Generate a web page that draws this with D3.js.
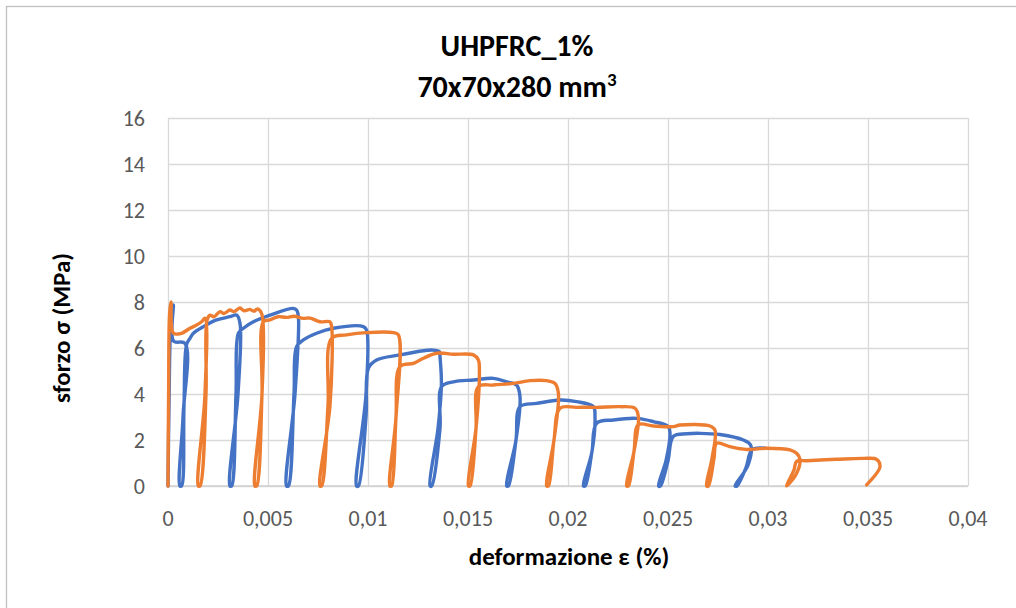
<!DOCTYPE html>
<html>
<head>
<meta charset="utf-8">
<script src="https://cdn.jsdelivr.net/npm/d3@7"></script>
<style>
  html, body { margin: 0; padding: 0; background: #fff; }
  svg { display: block; }
  text { font-family: Carlito, Lato, "Open Sans", sans-serif; }
</style>
</head>
<body>
<svg id="chart" width="1016" height="608"></svg>
<script>
// axis ticks
var xTicks = [0, 0.005, 0.01, 0.015, 0.02, 0.025, 0.03, 0.035, 0.04];
var yTicks = [0, 2, 4, 6, 8, 10, 12, 14, 16];

// blue specimen: [strain, stress]
var blueSeries = [
  [0, 0], [0.00005, 3.5], [0.00015, 7.2], [0.00027, 7.87], [0.00028, 6.3], [0.00085, 6.2],
  [0.00075, 3.0], [0.0006, 0],
  [0.00068, 0], [0.0008, 3.5], [0.00093, 6.15],
  [0.0011, 6.42], [0.00127, 6.64], [0.00177, 6.93], [0.00243, 7.22], [0.0031, 7.36], [0.00343, 7.43],
  [0.0036, 7.07], [0.0035, 4.0], [0.0031, 0],
  [0.00318, 0], [0.0034, 4.0], [0.00352, 6.64],
  [0.00377, 6.86], [0.00427, 7.14], [0.0051, 7.43], [0.00627, 7.72], [0.00643, 7.65],
  [0.00652, 7.36], [0.00635, 4.0], [0.00593, 0],
  [0.00602, 0], [0.0063, 4.0], [0.00643, 6.06],
  [0.00677, 6.35], [0.00743, 6.64], [0.00827, 6.86], [0.00977, 6.93], [0.00993, 6.78],
  [0.0099, 4.0], [0.00943, 0],
  [0.00952, 0], [0.0099, 3.0], [0.01002, 5.12],
  [0.01043, 5.48], [0.0116, 5.70], [0.01277, 5.88], [0.0132, 5.91], [0.01357, 5.84], [0.0136, 5.62],
  [0.01367, 4.46], [0.0135, 2.5], [0.0131, 0],
  [0.01318, 0], [0.0136, 2.5], [0.01368, 4.32],
  [0.01427, 4.53], [0.01527, 4.61], [0.01627, 4.68], [0.01693, 4.53], [0.01743, 4.39], [0.0176, 3.88],
  [0.0174, 2.0], [0.01693, 0],
  [0.01702, 0], [0.0174, 2.0], [0.0176, 3.45],
  [0.01843, 3.59], [0.0196, 3.74], [0.02043, 3.67], [0.02127, 3.45], [0.02135, 3.01],
  [0.0212, 1.5], [0.02077, 0],
  [0.02086, 0], [0.0212, 1.5], [0.02143, 2.73],
  [0.02227, 2.87], [0.02343, 2.94], [0.02427, 2.80], [0.02502, 2.58], [0.0251, 2.29],
  [0.0249, 1.1], [0.02453, 0],
  [0.02462, 0], [0.025, 1.1], [0.02527, 2.16],
  [0.02593, 2.27], [0.0266, 2.29], [0.0276, 2.24], [0.02877, 2.0], [0.02913, 1.78],
  [0.029, 0.9], [0.02835, 0],
  [0.02845, 0], [0.0289, 0.8], [0.0292, 1.57],
  [0.02987, 1.64]
];

// orange specimen: [strain, stress]
var orangeSeries = [
  [0, 0], [0.00003, 4.0], [0.00008, 7.5], [0.00015, 8.0], [0.00027, 6.64], [0.00068, 6.64],
  [0.0011, 6.86], [0.00143, 7.0], [0.00168, 7.14], [0.00185, 7.29],
  [0.00185, 4.0], [0.00152, 0],
  [0.0016, 0], [0.0019, 4.0], [0.00195, 7.2],
  [0.0021, 7.43], [0.0023, 7.36], [0.0026, 7.58], [0.0028, 7.5], [0.0031, 7.65], [0.0033, 7.58],
  [0.0036, 7.74], [0.0038, 7.62], [0.0041, 7.68], [0.0043, 7.6], [0.00447, 7.7], [0.00468, 7.5],
  [0.0047, 4.0], [0.00435, 0],
  [0.00443, 0], [0.0047, 4.0], [0.00477, 7.14],
  [0.0051, 7.22], [0.0055, 7.36], [0.00593, 7.33], [0.0063, 7.38], [0.00677, 7.29], [0.0071, 7.3],
  [0.0076, 7.14], [0.0081, 7.14], [0.00818, 6.93],
  [0.0081, 3.5], [0.0076, 0],
  [0.00768, 0], [0.008, 3.5], [0.00818, 6.42],
  [0.00893, 6.57], [0.00993, 6.67], [0.01127, 6.67], [0.01152, 6.57],
  [0.0114, 3.0], [0.0111, 0],
  [0.01118, 0], [0.0114, 3.0], [0.0116, 5.19],
  [0.01227, 5.33], [0.0126, 5.48], [0.01343, 5.77], [0.01427, 5.73], [0.01527, 5.70], [0.01552, 5.48], [0.01557, 4.97],
  [0.0154, 2.5], [0.01502, 0],
  [0.0151, 0], [0.0154, 2.5], [0.01552, 4.32],
  [0.01627, 4.39], [0.01727, 4.46], [0.0181, 4.58], [0.01893, 4.58], [0.01935, 4.46], [0.01952, 4.03],
  [0.0193, 2.0], [0.01893, 0],
  [0.01902, 0], [0.0193, 2.0], [0.0196, 3.38],
  [0.02043, 3.42], [0.02143, 3.42], [0.0226, 3.45], [0.02335, 3.38], [0.02352, 3.01],
  [0.0233, 1.5], [0.02293, 0],
  [0.02302, 0], [0.0233, 1.5], [0.02352, 2.67],
  [0.02427, 2.61], [0.02527, 2.58], [0.0256, 2.65], [0.0271, 2.61], [0.02735, 2.43],
  [0.0272, 1.2], [0.02693, 0],
  [0.02702, 0], [0.0273, 1.2], [0.02743, 1.86],
  [0.0281, 1.71], [0.02893, 1.59], [0.02993, 1.64], [0.0311, 1.57], [0.03143, 1.42], [0.0316, 1.16],
  [0.0314, 0.5], [0.03093, 0],
  [0.031, 0.15], [0.0313, 0.7], [0.03143, 1.07],
  [0.03193, 1.10], [0.03343, 1.16], [0.03477, 1.20], [0.03543, 1.16], [0.0356, 0.84], [0.03493, 0.05]
];

(function() {
  var svg = d3.select('#chart');
  var mLeft = 168, mRight = 968, mTop = 118, mBottom = 486;

  var x = d3.scaleLinear().domain([0, 0.04]).range([mLeft, mRight]);
  var y = d3.scaleLinear().domain([0, 16]).range([mBottom, mTop]);

  // chart frame (runs off the picture on the right and bottom)
  svg.append('rect')
    .attr('x', 6.5).attr('y', 6.5)
    .attr('width', 1100).attr('height', 700)
    .attr('fill', '#fff').attr('stroke', '#BFBFBF').attr('stroke-width', 1.3);

  // gridlines
  svg.append('g')
    .attr('transform', 'translate(0,' + mBottom + ')')
    .call(d3.axisBottom(x).tickValues(xTicks).tickSize(-(mBottom - mTop)).tickFormat(''))
    .call(function(g) {
      g.select('.domain').remove();
      g.selectAll('line').attr('stroke', '#D9D9D9').attr('stroke-width', 1.3);
    });
  svg.append('g')
    .attr('transform', 'translate(' + mLeft + ',0)')
    .call(d3.axisLeft(y).tickValues(yTicks).tickSize(-(mRight - mLeft)).tickFormat(''))
    .call(function(g) {
      g.select('.domain').remove();
      g.selectAll('line').attr('stroke', '#D9D9D9').attr('stroke-width', 1.3);
    });

  // bottom axis line
  svg.append('line')
    .attr('x1', mLeft).attr('x2', mRight)
    .attr('y1', mBottom).attr('y2', mBottom)
    .attr('stroke', '#D0D0D0').attr('stroke-width', 1.5);

  // tick labels
  var fmt = function(d) { return String(d).replace('.', ','); };
  svg.append('g').selectAll('text').data(xTicks).enter().append('text')
    .attr('x', function(d) { return x(d); })
    .attr('y', 526)
    .attr('text-anchor', 'middle')
    .attr('font-size', 22)
    .attr('fill', '#595959')
    .text(fmt);
  svg.append('g').selectAll('text').data(yTicks).enter().append('text')
    .attr('x', 145)
    .attr('y', function(d) { return y(d) + 7.5; })
    .attr('text-anchor', 'end')
    .attr('font-size', 22)
    .attr('fill', '#595959')
    .text(function(d) { return d; });

  // series, smoothed like the spreadsheet's scatter lines
  var line = d3.line()
    .curve(d3.curveCatmullRom.alpha(0.5))
    .x(function(d) { return x(d[0]); })
    .y(function(d) { return y(d[1]); });

  svg.append('path').datum(blueSeries)
    .attr('d', line)
    .attr('fill', 'none').attr('stroke', '#4472C4').attr('stroke-width', 3.4)
    .attr('stroke-linejoin', 'round').attr('stroke-linecap', 'round');
  svg.append('path').datum(orangeSeries)
    .attr('d', line)
    .attr('fill', 'none').attr('stroke', '#ED7D31').attr('stroke-width', 3.4)
    .attr('stroke-linejoin', 'round').attr('stroke-linecap', 'round');

  // titles
  svg.append('text')
    .attr('x', 517).attr('y', 56)
    .attr('text-anchor', 'middle')
    .attr('font-size', 30).attr('font-weight', 'bold').attr('fill', '#000')
    .text('UHPFRC_1%');
  var t2 = svg.append('text')
    .attr('x', 517).attr('y', 97)
    .attr('text-anchor', 'middle')
    .attr('font-size', 30).attr('font-weight', 'bold').attr('fill', '#000');
  t2.append('tspan').text('70x70x280 mm');
  t2.append('tspan').attr('font-size', 19).attr('dy', -11).text('3');

  svg.append('text')
    .attr('x', 569).attr('y', 565)
    .attr('text-anchor', 'middle')
    .attr('font-size', 25).attr('font-weight', 'bold').attr('fill', '#000')
    .text('deformazione ε (%)');
  svg.append('text')
    .attr('transform', 'translate(70,328) rotate(-90)')
    .attr('text-anchor', 'middle')
    .attr('font-size', 25).attr('font-weight', 'bold').attr('fill', '#000')
    .text('sforzo σ (MPa)');
})();
</script>
</body>
</html>
